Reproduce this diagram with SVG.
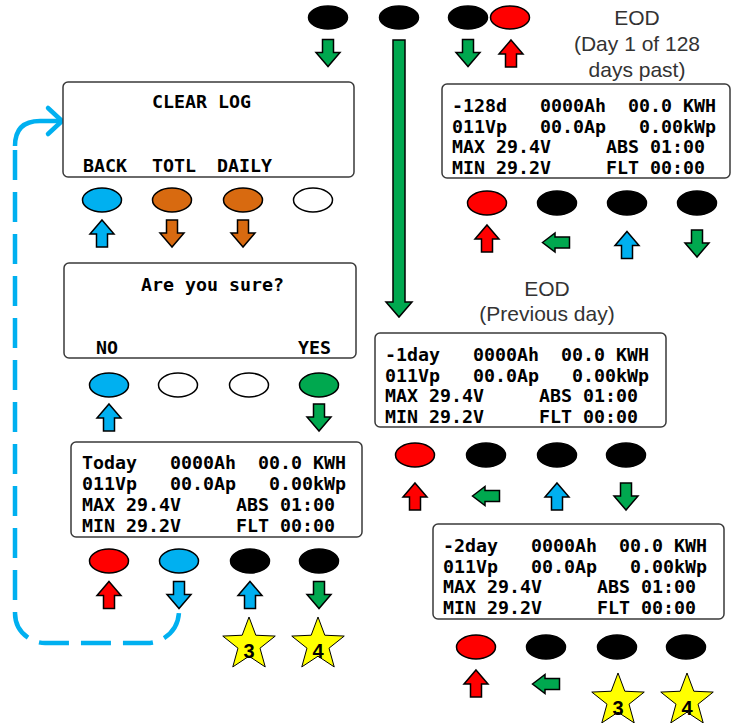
<svg xmlns="http://www.w3.org/2000/svg" xmlns:xlink="http://www.w3.org/1999/xlink" width="744" height="723" viewBox="0 0 744 723">
<style>
.scr{fill:#fff;stroke:#3a3a3a;stroke-width:1.5}
.lcd{font-family:"DejaVu Sans Mono","Liberation Mono",monospace;font-weight:bold;font-size:18.27px;fill:#000;white-space:pre}
.lbl{font-family:"Liberation Sans",Arial,sans-serif;font-size:21px;fill:#333;text-anchor:middle}
.btn{stroke:#000;stroke-width:1.5}
.k{fill:#000}.r{fill:#f00}.b{fill:#00B0F0}.o{fill:#D86A10}.g{fill:#00A84F}.w{fill:#fff}
.ar{stroke:#000;stroke-width:1.5;stroke-linejoin:miter}
.star{fill:#ff0;stroke:#000;stroke-width:1}
.num{font-family:"Liberation Sans",Arial,sans-serif;font-weight:bold;font-size:20px;text-anchor:middle;fill:#000}
.dash{fill:none;stroke:#00B0F0;stroke-width:4.5}
</style>
<defs>
<path id="au" d="M0,-13.5 L12,0.5 L5.5,0.5 L5.5,13.5 L-5.5,13.5 L-5.5,0.5 L-12,0.5 Z"/>
<path id="al" d="M-13.5,0 L-1,-9.5 L-1,-5.5 L13.5,-5.5 L13.5,5.5 L-1,5.5 L-1,9.5 Z"/>
<polygon id="st" points="0,-27.6 6.82,-9.38 26.25,-8.53 11.03,3.58 16.22,22.33 0,11.6 -16.22,22.33 -11.03,3.58 -26.25,-8.53 -6.82,-9.38"/>
</defs>

<g id="connectors">
<polygon class="g ar" points="393,40 405,40 405,302 412,302 399,317 386,302 393,302"/>
<path class="dash" d="M61,121 L40,121 Q15,121 15,146"/>
<path class="dash" stroke-dasharray="30 12" d="M15,150 L15,613 A30,30 0 0 0 45,643 L147,643 A32,32 0 0 0 179,611 L179,608"/>
<polyline class="dash" stroke-linecap="round" stroke-linejoin="round" points="48,108 62,121 48,134"/>
</g>

<g id="top-keys">
<ellipse class="btn k" cx="328" cy="17.5" rx="19.5" ry="11.5"/>
<ellipse class="btn k" cx="399" cy="17.5" rx="19.5" ry="11.5"/>
<ellipse class="btn k" cx="468" cy="17.5" rx="19.5" ry="11.5"/>
<ellipse class="btn r" cx="510" cy="17.5" rx="19.5" ry="11.5"/>
<use href="#au" class="g ar" transform="translate(328,53) rotate(180)"/>
<use href="#au" class="g ar" transform="translate(468,53) rotate(180)"/>
<use href="#au" class="r ar" transform="translate(511,53.5)"/>
</g>

<g id="eod-title">
<text class="lbl" x="637" y="25">EOD</text>
<text class="lbl" x="637" y="51">(Day 1 of 128</text>
<text class="lbl" x="637" y="77">days past)</text>
</g>

<g id="clear-log">
<rect class="scr" x="63" y="82" width="291" height="95" rx="5"/>
<text class="lcd" x="152" y="108">CLEAR LOG</text>
<text class="lcd" x="83" y="172">BACK</text>
<text class="lcd" x="152" y="172">TOTL</text>
<text class="lcd" x="217" y="172">DAILY</text>
<ellipse class="btn b" cx="102" cy="200" rx="19.5" ry="12"/>
<ellipse class="btn o" cx="172" cy="200" rx="19.5" ry="12"/>
<ellipse class="btn o" cx="243" cy="200" rx="19.5" ry="12"/>
<ellipse class="btn w" cx="313" cy="200" rx="19.5" ry="12"/>
<use href="#au" class="b ar" transform="translate(102,233.5)"/>
<use href="#au" class="o ar" transform="translate(172,233.5) rotate(180)"/>
<use href="#au" class="o ar" transform="translate(243,233.5) rotate(180)"/>
</g>

<g id="are-you-sure">
<rect class="scr" x="64" y="263" width="292" height="95" rx="5"/>
<text class="lcd" x="141" y="291">Are you sure?</text>
<text class="lcd" x="96" y="354">NO</text>
<text class="lcd" x="298" y="354">YES</text>
<ellipse class="btn b" cx="109" cy="385" rx="19.5" ry="12"/>
<ellipse class="btn w" cx="178" cy="385" rx="19.5" ry="12"/>
<ellipse class="btn w" cx="249" cy="385" rx="19.5" ry="12"/>
<ellipse class="btn g" cx="319" cy="385" rx="19.5" ry="12"/>
<use href="#au" class="b ar" transform="translate(109,417.5)"/>
<use href="#au" class="g ar" transform="translate(319,417.5) rotate(180)"/>
</g>

<g id="today">
<rect class="scr" x="71" y="442" width="291" height="95" rx="5"/>
<text class="lcd" xml:space="preserve" x="82" y="469">Today   0000Ah  00.0 KWH</text>
<text class="lcd" xml:space="preserve" x="82" y="490">011Vp   00.0Ap   0.00kWp</text>
<text class="lcd" xml:space="preserve" x="82" y="511">MAX 29.4V     ABS 01:00</text>
<text class="lcd" xml:space="preserve" x="82" y="532">MIN 29.2V     FLT 00:00</text>
<ellipse class="btn r" cx="109" cy="561" rx="19.5" ry="12"/>
<ellipse class="btn b" cx="179" cy="561" rx="19.5" ry="12"/>
<ellipse class="btn k" cx="250" cy="561" rx="19.5" ry="12"/>
<ellipse class="btn k" cx="319" cy="561" rx="19.5" ry="12"/>
<use href="#au" class="r ar" transform="translate(109,595)"/>
<use href="#au" class="b ar" transform="translate(179,595) rotate(180)"/>
<use href="#au" class="b ar" transform="translate(250,595)"/>
<use href="#au" class="g ar" transform="translate(319,595) rotate(180)"/>
</g>

<g id="star-3a"><use href="#st" class="star" transform="translate(249,644.6)"/><text class="num" x="249" y="658">3</text></g>
<g id="star-4a"><use href="#st" class="star" transform="translate(318,644.6)"/><text class="num" x="318" y="658">4</text></g>

<g id="eod-128">
<rect class="scr" x="442" y="84" width="288" height="94" rx="5"/>
<text class="lcd" xml:space="preserve" x="452" y="112">-128d   0000Ah  00.0 KWH</text>
<text class="lcd" xml:space="preserve" x="452" y="133">011Vp   00.0Ap   0.00kWp</text>
<text class="lcd" xml:space="preserve" x="452" y="153">MAX 29.4V     ABS 01:00</text>
<text class="lcd" xml:space="preserve" x="452" y="174">MIN 29.2V     FLT 00:00</text>
<ellipse class="btn r" cx="487" cy="203" rx="19.5" ry="12"/>
<ellipse class="btn k" cx="557" cy="203" rx="19.5" ry="12"/>
<ellipse class="btn k" cx="627" cy="203" rx="19.5" ry="12"/>
<ellipse class="btn k" cx="697" cy="203" rx="19.5" ry="12"/>
<use href="#au" class="r ar" transform="translate(487,238.5)"/>
<use href="#al" class="g ar" transform="translate(556,242.5)"/>
<use href="#au" class="b ar" transform="translate(627,245)"/>
<use href="#au" class="g ar" transform="translate(697,243.5) rotate(180)"/>
</g>

<g id="eod-prev-title">
<text class="lbl" x="547" y="296">EOD</text>
<text class="lbl" x="547" y="321">(Previous day)</text>
</g>

<g id="eod-1">
<rect class="scr" x="375" y="333" width="291" height="94" rx="5"/>
<text class="lcd" xml:space="preserve" x="385" y="361">-1day   0000Ah  00.0 KWH</text>
<text class="lcd" xml:space="preserve" x="385" y="382">011Vp   00.0Ap   0.00kWp</text>
<text class="lcd" xml:space="preserve" x="385" y="402">MAX 29.4V     ABS 01:00</text>
<text class="lcd" xml:space="preserve" x="385" y="423">MIN 29.2V     FLT 00:00</text>
<ellipse class="btn r" cx="415" cy="455" rx="19.5" ry="12"/>
<ellipse class="btn k" cx="486" cy="455" rx="19.5" ry="12"/>
<ellipse class="btn k" cx="557" cy="455" rx="19.5" ry="12"/>
<ellipse class="btn k" cx="626" cy="455" rx="19.5" ry="12"/>
<use href="#au" class="r ar" transform="translate(415,496.5)"/>
<use href="#al" class="g ar" transform="translate(486,496)"/>
<use href="#au" class="b ar" transform="translate(557,496.5)"/>
<use href="#au" class="g ar" transform="translate(626,496.5) rotate(180)"/>
</g>

<g id="eod-2">
<rect class="scr" x="433" y="524" width="291" height="95" rx="5"/>
<text class="lcd" xml:space="preserve" x="443" y="552">-2day   0000Ah  00.0 KWH</text>
<text class="lcd" xml:space="preserve" x="443" y="573">011Vp   00.0Ap   0.00kWp</text>
<text class="lcd" xml:space="preserve" x="443" y="593">MAX 29.4V     ABS 01:00</text>
<text class="lcd" xml:space="preserve" x="443" y="614">MIN 29.2V     FLT 00:00</text>
<ellipse class="btn r" cx="476" cy="647" rx="19.5" ry="12"/>
<ellipse class="btn k" cx="546" cy="647" rx="19.5" ry="12"/>
<ellipse class="btn k" cx="617" cy="647" rx="19.5" ry="12"/>
<ellipse class="btn k" cx="686" cy="647" rx="19.5" ry="12"/>
<use href="#au" class="r ar" transform="translate(476,683.5)"/>
<use href="#al" class="g ar" transform="translate(546,684)"/>
</g>

<g id="star-3b"><use href="#st" class="star" transform="translate(618,700.6)"/><text class="num" x="618" y="715">3</text></g>
<g id="star-4b"><use href="#st" class="star" transform="translate(687,700.6)"/><text class="num" x="687" y="715">4</text></g>
</svg>
